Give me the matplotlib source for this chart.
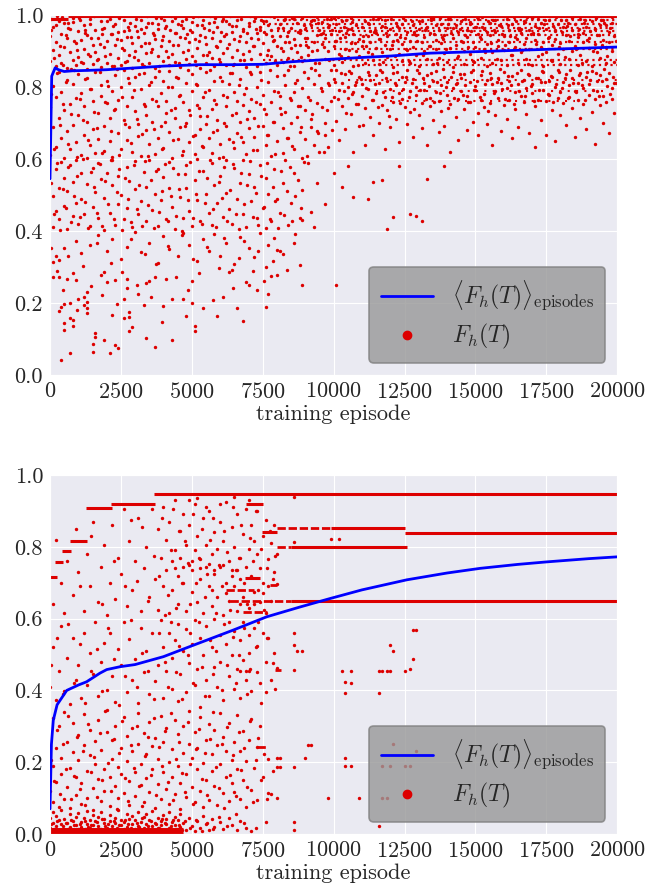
import numpy as np
import matplotlib
matplotlib.use("Agg")
import matplotlib.pyplot as plt
import seaborn as sns
from matplotlib.lines import Line2D

sns.set_style("darkgrid")
plt.rcParams["font.family"] = ["cmr10", "DejaVu Serif"]
plt.rcParams["mathtext.fontset"] = "cm"
plt.rcParams["axes.unicode_minus"] = False
plt.rcParams["axes.formatter.use_mathtext"] = True

RED = "#dd0000"
BLUE = "#0000ff"

# ---- data: x in hundreds of episodes, y in thousandths ----
# top panel: running mean of fidelity
top_mean_ep = [0, 60, 180, 300, 500, 800, 1300, 2000, 3000, 4000, 5300, 6500, 7500,
               8500, 9900, 11000, 12000, 13400, 15000, 16900, 18500, 20000]
top_mean = [0.545, 0.83, 0.853, 0.848, 0.843, 0.845, 0.846, 0.848, 0.853, 0.858, 0.862,
            0.862, 0.863, 0.870, 0.877, 0.882, 0.886, 0.894, 0.898, 0.903, 0.907, 0.911]

# top panel: scattered fidelities, per region
top_hi_left = [(0,872),(0,941),(1,903),(1,968),(2,857),(2,925),(3,984),(3,889),(4,947),(4,866),(5,912),(5,979),(6,853),(6,936),(7,898),(7,962),(8,875),(8,991),(9,921),(9,860),(10,955),(10,884),(11,930),(11,869),(12,973),(12,905),(13,851),(13,944),(14,887),(14,988),(15,918),(15,864),(16,959),(16,896),(17,877),(17,937),(18,982),(18,855),(19,910),(19,965),(20,868),(20,927),(21,990),(21,893),(22,946),(22,859),(23,916),(23,975),(24,880),(24,952),(25,862),(25,931),(26,902),(26,986),(27,871),(27,940),(28,957),(28,890),(29,923),(29,852),(30,969),(30,899),(31,938),(31,876),(32,985),(32,913),(33,858),(33,949),(34,894),(34,966),(35,921),(35,867),(36,979),(36,905),(37,853),(37,934),(38,960),(38,886),(39,915),(39,993),(40,873),(40,942),(41,901),(41,970),(42,861),(42,928),(43,983),(43,892),(44,951),(44,869),(45,917),(45,976),(46,856),(46,939),(47,898),(47,963),(48,879),(48,990),(49,926),(49,863),(50,954),(50,887),(51,932),(51,872),(52,973),(52,909),(53,854),(53,945),(54,890),(54,987),(55,920),(55,866),(56,958),(56,897),(57,880),(57,936),(58,981),(58,857),(59,911),(59,966),(60,870),(60,929),(61,989),(61,895),(62,948),(62,860),(63,919),(63,974),(64,882),(64,953),(65,864),(65,933),(66,904),(66,985),(67,874),(67,943),(68,956),(68,891),(69,924),(69,855),(70,970),(70,900),(71,937),(71,878),(72,984),(72,914),(73,859),(73,950),(74,893),(74,967)]
top_hi_left2 = [(0.5,958),(1.5,881),(2.5,996),(3.5,913),(4.5,862),(5.5,944),(6.5,977),(7.5,851),(8.5,928),(9.5,903),(10.5,985),(11.5,867),(12.5,950),(13.5,892),(14.5,936),(15.5,997),(16.5,874),(17.5,919),(18.5,961),(19.5,885),(20.5,998),(21.5,946),(22.5,858),(23.5,932),(24.5,991),(25.5,907),(26.5,870),(27.5,968),(28.5,939),(29.5,884),(30.5,955),(31.5,996),(32.5,865),(33.5,921),(34.5,978),(35.5,898),(36.5,944),(37.5,993),(38.5,857),(39.5,931),(40.5,964),(41.5,883),(42.5,997),(43.5,916),(44.5,949),(45.5,868),(46.5,982),(47.5,936),(48.5,904),(49.5,958),(50.5,995),(51.5,861),(52.5,927),(53.5,972),(54.5,939),(55.5,889),(56.5,998),(57.5,952),(58.5,915),(59.5,879),(60.5,984),(61.5,943),(62.5,907),(63.5,996),(64.5,862),(65.5,969),(66.5,927),(67.5,990),(68.5,876),(69.5,949),(70.5,997),(71.5,913),(72.5,961),(73.5,934),(74.5,986),
                (0.2,988),(2.2,972),(4.2,995),(6.2,963),(8.2,981),(10.2,992),(12.2,958),(14.2,976),(16.2,999),(18.2,947),(20.2,983),(22.2,969),(24.2,994),(26.2,955),(28.2,978),(30.2,989),(32.2,962),(34.2,997),(36.2,951),(38.2,974),(40.2,986),(42.2,959),(44.2,993),(46.2,971),(48.2,948),(50.2,981),(52.2,996),(54.2,965),(56.2,977),(58.2,991),(60.2,954),(62.2,983),(64.2,970),(66.2,998),(68.2,961),(70.2,979),(72.2,992),(74.2,957)]

top_hi_right = [(75,921),(75,983),(76,866),(76,947),(77,903),(77,972),(78,887),(78,958),(79,930),(79,994),(80,861),(80,915),(81,976),(81,942),(82,899),(82,869),(83,988),(83,925),(84,953),(84,880),(85,907),(85,965),(86,934),(86,857),(87,979),(87,896),(88,949),(88,918),(89,873),(89,991),(90,937),(90,962),(91,888),(91,910),(92,971),(92,853),(93,926),(93,985),(94,902),(94,944),(95,866),(95,957),(96,919),(96,981),(97,877),(97,935),(98,968),(98,899),(99,946),(99,990),(100,862),(100,913),(101,975),(101,929),(102,893),(102,955),(103,984),(103,870),(104,938),(104,906),(105,961),(105,882),(106,921),(106,993),(107,948),(107,859),(108,901),(108,973),(109,932),(109,887),(110,966),(110,915),(111,982),(111,868),(112,943),(112,896),(113,956),(113,924),(114,875),(114,989),(115,909),(115,951),(116,934),(116,863),(117,970),(117,898),(118,917),(118,985),(119,884),(119,941),(120,960),(120,905),(121,927),(121,856),(122,978),(122,947),(123,892),(123,965),(124,919),(124,873),(125,987),(125,936),(126,903),(126,954),(127,866),(127,929),(128,972),(128,912),(129,890),(129,945),(130,961),(130,858),(131,924),(131,983),(132,899),(132,939),(133,877),(133,968),(134,950),(134,915),(135,992),(135,864),(136,931),(136,906),(137,957),(137,881),(138,922),(138,976),(139,944),(139,895),(140,869),(140,963),(141,909),(141,988),(142,936),(142,855),(143,971),(143,917),(144,885),(144,952),(145,929),(145,982),(146,901),(146,864),(147,958),(147,940),(148,893),(148,976),(149,925),(149,872),(150,966),(150,911),(151,947),(151,989),(152,880),(152,934),(153,905),(153,961),(154,857),(154,920),(155,977),(155,944),(156,896),(156,868),(157,953),(157,985),(158,915),(158,930),(159,874),(159,969),(160,942),(160,902),(161,988),(161,861),(162,926),(162,958),(163,889),(163,975),(164,911),(164,938),(165,866),(165,964),(166,949),(166,896),(167,983),(167,919),(168,877),(168,935),(169,957),(169,905),(170,992),(170,862),(171,931),(171,970),(172,887),(172,946),(173,912),(173,979),(174,859),(174,924),(175,961),(175,898),(176,940),(176,987),(177,871),(177,916),(178,955),(178,933),(179,893),(179,974),(180,921),(180,865),(181,967),(181,906),(182,944),(182,985),(183,878),(183,929),(184,958),(184,901),(185,913),(185,976),(186,862),(186,939),(187,990),(187,890),(188,925),(188,951),(189,873),(189,967),(190,908),(190,936),(191,982),(191,857),(192,919),(192,962),(193,896),(193,945),(194,971),(194,881),(195,930),(195,987),(196,866),(196,911),(197,954),(197,925),(198,899),(198,978),(199,941),(199,869)]
top_hi_right2 = [(75.5,952),(76.5,889),(77.5,996),(78.5,928),(79.5,871),(80.5,963),(81.5,907),(82.5,985),(83.5,941),(84.5,858),(85.5,993),(86.5,917),(87.5,954),(88.5,883),(89.5,972),(90.5,935),(91.5,998),(92.5,901),(93.5,867),(94.5,979),(95.5,946),(96.5,912),(97.5,990),(98.5,876),(99.5,958),(100.5,929),(101.5,995),(102.5,886),(103.5,966),(104.5,949),(105.5,903),(106.5,981),(107.5,922),(108.5,862),(109.5,997),(110.5,943),(111.5,915),(112.5,976),(113.5,892),(114.5,959),(115.5,988),(116.5,933),(117.5,869),(118.5,951),(119.5,998),(120.5,918),(121.5,885),(122.5,969),(123.5,940),(124.5,993),(125.5,906),(126.5,872),(127.5,982),(128.5,954),(129.5,927),(130.5,996),(131.5,889),(132.5,963),(133.5,914),(134.5,985),(135.5,947),(136.5,868),(137.5,991),(138.5,933),(139.5,905),(140.5,976),(141.5,951),(142.5,997),(143.5,880),(144.5,962),(145.5,924),(146.5,989),(147.5,911),(148.5,955),(149.5,870),(150.5,994),(151.5,938),(152.5,966),(153.5,897),(154.5,983),(155.5,921),(156.5,959),(157.5,878),(158.5,999),(159.5,946),(160.5,916),(161.5,972),(162.5,888),(163.5,995),(164.5,934),(165.5,957),(166.5,903),(167.5,980),(168.5,864),(169.5,948),(170.5,996),(171.5,919),(172.5,963),(173.5,893),(174.5,987),(175.5,936),(176.5,874),(177.5,970),(178.5,995),(179.5,912),(180.5,953),(181.5,884),(182.5,977),(183.5,942),(184.5,998),(185.5,905),(186.5,962),(187.5,868),(188.5,985),(189.5,931),(190.5,956),(191.5,899),(192.5,993),(193.5,944),(194.5,917),(195.5,979),(196.5,887),(197.5,965),(198.5,996),(199.5,928),
                 (76.2,984),(78.2,941),(80.2,997),(82.2,963),(84.2,925),(86.2,989),(88.2,957),(90.2,918),(92.2,982),(94.2,995),(96.2,949),(98.2,973),(100.2,992),(102.2,937),(104.2,986),(106.2,961),(108.2,998),(110.2,927),(112.2,979),(114.2,953),(116.2,994),(118.2,966),(120.2,988),(122.2,931),(124.2,975),(126.2,997),(128.2,948),(130.2,983),(132.2,958),(134.2,993),(136.2,971),(138.2,939),(140.2,990),(142.2,964),(144.2,997),(146.2,945),(148.2,981),(150.2,967),(152.2,995),(154.2,952),(156.2,986),(158.2,973),(160.2,998),(162.2,943),(164.2,984),(166.2,962),(168.2,994),(170.2,951),(172.2,988),(174.2,976),(176.2,997),(178.2,958),(180.2,985),(182.2,969),(184.2,992),(186.2,947),(188.2,979),(190.2,996),(192.2,961),(194.2,986),(196.2,972),(198.2,994)]

top_mid_left = [(0,612),(0,745),(1,688),(1,803),(2,634),(2,771),(3,715),(3,842),(4,659),(4,786),(5,603),(5,737),(6,820),(6,677),(7,752),(7,628),(8,809),(8,694),(9,647),(9,769),(10,835),(10,721),(11,611),(11,783),(12,668),(12,748),(13,826),(13,702),(14,639),(14,794),(15,760),(15,683),(16,617),(16,841),(17,729),(17,655),(18,805),(18,774),(19,692),(19,623),(20,756),(20,818),(21,649),(21,713),(22,788),(22,605),(23,739),(23,832),(24,671),(24,763),(25,627),(25,799),(26,708),(26,846),(27,654),(27,747),(28,811),(28,688),(29,619),(29,772),(30,733),(30,827),(31,664),(31,697),(32,795),(32,608),(33,752),(33,838),(34,681),(34,723),(35,641),(35,806),(36,767),(36,702),(37,615),(37,829),(38,746),(38,659),(39,783),(39,692),(40,631),(40,818),(41,727),(41,762),(42,676),(42,845),(43,604),(43,799),(44,741),(44,713),(45,656),(45,826),(46,778),(46,690),(47,622),(47,757),(48,812),(48,701),(49,648),(49,735),(50,789),(50,837),(51,667),(51,614),(52,751),(52,805),(53,720),(53,683),(54,633),(54,771),(55,843),(55,698),(56,659),(56,792),(57,738),(57,616),(58,817),(58,764),(59,680),(59,709),(60,641),(60,828),(61,777),(61,606),(62,746),(62,693),(63,809),(63,655),(64,722),(64,839),(65,630),(65,785),(66,761),(66,672),(67,704),(67,821),(68,646),(68,749),(69,797),(69,613),(70,733),(70,686),(71,835),(71,768),(72,660),(72,715),(73,801),(73,624),(74,752),(74,841),(75,693),(75,779),(76,638),(76,726),(77,814),(77,667),(78,758),(78,607),(79,790),(79,703),(80,651),(80,830),(81,742),(81,774),(82,618),(82,685),(83,806),(83,730),(84,659),(84,846),(85,763),(85,699),(86,627),(86,787),(87,716),(87,819),(88,674),(88,748),(89,603),(89,796),(90,737),(90,655),(91,826),(91,771),(92,688),(92,712),(93,640),(93,809),(94,756),(94,679),(95,833),(95,620),(96,744),(96,790),(97,668),(97,701),(98,812),(98,634),(99,760),(99,846)]
top_mid_left2 = [(0.5,781),(1.5,627),(2.5,838),(3.5,694),(4.5,752),(5.5,813),(6.5,641),(7.5,726),(8.5,847),(9.5,605),(10.5,768),(11.5,709),(12.5,822),(13.5,653),(14.5,794),(15.5,731),(16.5,686),(17.5,842),(18.5,618),(19.5,759),(20.5,804),(21.5,677),(22.5,735),(23.5,849),(24.5,611),(25.5,772),(26.5,698),(27.5,826),(28.5,645),(29.5,793),(30.5,712),(31.5,837),(32.5,669),(33.5,748),(34.5,607),(35.5,815),(36.5,683),(37.5,761),(38.5,844),(39.5,628),(40.5,702),(41.5,799),(42.5,737),(43.5,654),(44.5,828),(45.5,775),(46.5,612),(47.5,691),(48.5,846),(49.5,723),(50.5,664),(51.5,808),(52.5,741),(53.5,635),(54.5,786),(55.5,719),(56.5,848),(57.5,675),(58.5,752),(59.5,603),(60.5,817),(61.5,699),(62.5,773),(63.5,839),(64.5,647),(65.5,728),(66.5,805),(67.5,662),(68.5,781),(69.5,711),(70.5,842),(71.5,626),(72.5,757),(73.5,693),(74.5,819),(75.5,738),(76.5,667),(77.5,846),(78.5,704),(79.5,613),(80.5,787),(81.5,725),(82.5,832),(83.5,658),(84.5,769),(85.5,636),(86.5,811),(87.5,747),(88.5,689),(89.5,841),(90.5,608),(91.5,763),(92.5,725),(93.5,848),(94.5,673),(95.5,796),(96.5,619),(97.5,735),(98.5,806),(99.5,681)]

top_mid_right = [(100,772),(100,823),(101,705),(101,846),(102,791),(102,652),(103,812),(103,748),(104,835),(104,683),(105,769),(105,801),(106,726),(106,840),(107,619),(107,787),(108,815),(108,754),(109,693),(109,829),(110,776),(110,808),(111,640),(111,741),(112,843),(112,795),(113,718),(113,820),(114,764),(114,667),(115,833),(115,783),(116,701),(116,810),(117,749),(117,842),(118,628),(118,772),(119,816),(119,737),(120,794),(120,688),(121,838),(121,759),(122,806),(122,712),(123,783),(123,647),(124,827),(124,766),(125,745),(125,813),(126,698),(126,848),(127,789),(127,731),(128,821),(128,660),(129,777),(129,801),(130,722),(130,840),(131,756),(131,685),(132,811),(132,793),(133,638),(133,832),(134,770),(134,747),(135,709),(135,818),(136,786),(136,845),(137,674),(137,761),(138,805),(138,733),(139,828),(139,693),(140,779),(140,815),(141,752),(141,620),(142,842),(142,797),(143,716),(143,808),(144,768),(144,654),(145,825),(145,788),(146,739),(146,836),(147,681),(147,774),(148,813),(148,758),(149,703),(149,846),(150,792),(150,803),(151,727),(151,668),(152,832),(152,765),(153,781),(153,744),(154,819),(154,696),(155,838),(155,756),(156,640),(156,807),(157,789),(157,722),(158,826),(158,770),(159,677),(159,811),(160,750),(160,843),(161,796),(161,711),(162,818),(162,763),(163,658),(163,831),(164,785),(164,739),(165,807),(165,690),(166,848),(166,775),(167,757),(167,820),(168,725),(168,797),(169,672),(169,834),(170,782),(170,808),(171,746),(171,633),(172,826),(172,765),(173,707),(173,813),(174,791),(174,842),(175,668),(175,760),(176,817),(176,778),(177,736),(177,829),(178,801),(178,650),(179,769),(179,846),(180,787),(180,721),(181,814),(181,755),(182,836),(182,694),(183,773),(183,805),(184,742),(184,826),(185,661),(185,789),(186,812),(186,764),(187,715),(187,840),(188,796),(188,752),(189,828),(189,683),(190,778),(190,809),(191,730),(191,845),(192,766),(192,642),(193,818),(193,790),(194,749),(194,833),(195,701),(195,775),(196,821),(196,758),(197,839),(197,672),(198,797),(198,766),(199,812),(199,728)]
top_mid_right2 = [(100.5,814),(101.5,768),(102.5,839),(103.5,790),(104.5,727),(105.5,845),(106.5,781),(107.5,806),(108.5,752),(109.5,822),(110.5,694),(111.5,798),(112.5,833),(113.5,763),(114.5,809),(115.5,745),(116.5,848),(117.5,786),(118.5,826),(119.5,719),(120.5,771),(121.5,811),(122.5,842),(123.5,756),(124.5,795),(125.5,829),(126.5,773),(127.5,812),(128.5,738),(129.5,846),(130.5,791),(131.5,824),(132.5,766),(133.5,804),(134.5,838),(135.5,757),(136.5,815),(137.5,783),(138.5,849),(139.5,801),(140.5,742),(141.5,827),(142.5,769),(143.5,810),(144.5,836),(145.5,778),(146.5,805),(147.5,757),(148.5,841),(149.5,793),(150.5,816),(151.5,771),(152.5,845),(153.5,808),(154.5,733),(155.5,826),(156.5,784),(157.5,813),(158.5,849),(159.5,795),(160.5,768),(161.5,831),(162.5,806),(163.5,752),(164.5,840),(165.5,788),(166.5,817),(167.5,776),(168.5,836),(169.5,803),(170.5,761),(171.5,824),(172.5,792),(173.5,845),(174.5,814),(175.5,780),(176.5,830),(177.5,759),(178.5,809),(179.5,842),(180.5,797),(181.5,825),(182.5,770),(183.5,847),(184.5,812),(185.5,786),(186.5,833),(187.5,806),(188.5,764),(189.5,843),(190.5,819),(191.5,793),(192.5,838),(193.5,775),(194.5,816),(195.5,849),(196.5,802),(197.5,781),(198.5,829),(199.5,811)]

top_lowmid = [(1,412),(1,498),(2,455),(2,571),(3,433),(3,520),(4,592),(5,470),(5,548),(6,405),(6,512),(7,583),(8,441),(8,535),(9,478),(9,596),(10,420),(11,561),(11,489),(12,447),(13,530),(13,602),(14,415),(15,468),(15,575),(16,509),(17,437),(17,588),(18,545),(19,402),(19,492),(20,561),(21,451),(22,527),(22,598),(23,418),(24,475),(24,553),(25,501),(26,432),(27,579),(27,463),(28,540),(29,411),(30,517),(30,594),(31,446),(32,484),(33,565),(34,427),(34,522),(35,597),(36,458),(37,503),(38,571),(38,414),(39,486),(40,549),(41,433),(42,591),(42,519),(43,468),(44,405),(45,558),(46,495),(47,437),(48,582),(48,520),(49,455),(50,413),(51,541),(52,487),(52,600),(53,429),(54,568),(55,503),(56,451),(57,589),(57,416),(58,529),(59,477),(60,552),(61,438),(62,596),(62,506),(63,460),(64,420),(65,575),(66,490),(67,533),(68,446),(68,598),(69,411),(70,558),(71,482),(72,521),(73,437),(74,584),(75,465),(76,409),(76,546),(77,502),(78,427),(79,572),(80,490),(81,451),(82,534),(83,596),(84,418),(85,478),(86,560),(88,437),(89,514),(91,590),(92,454),(94,532),(97,476),(100,562),(103,522),(105,581),(107,494),(112,489),(114,535),(117,543),(119,406),(121,439),(123,580),(127,446),(129,442),(131,428),(133,544),(139,580),(93,410),(89,430),(101,250)]
top_lowmid2 = [(0.5,533),(1.5,447),(2.5,589),(3.5,402),(4.5,516),(5.5,463),(6.5,578),(7.5,425),(8.5,497),(9.5,552),(10.5,438),(11.5,599),(12.5,481),(13.5,407),(14.5,563),(15.5,522),(16.5,449),(17.5,586),(18.5,413),(19.5,538),(20.5,476),(21.5,597),(22.5,432),(23.5,509),(24.5,571),(25.5,404),(26.5,548),(27.5,489),(28.5,426),(29.5,583),(30.5,461),(31.5,527),(32.5,415),(33.5,594),(34.5,472),(35.5,541),(36.5,408),(37.5,566),(38.5,453),(39.5,511),(40.5,587),(41.5,429),(42.5,496),(43.5,574),(44.5,443),(45.5,518),(46.5,401),(47.5,559),(48.5,485),(49.5,592),(50.5,436),(51.5,503),(52.5,568),(53.5,419),(54.5,479),(55.5,547),(56.5,598),(57.5,462),(58.5,411),(59.5,536),(60.5,491),(61.5,577),(62.5,427),(63.5,513),(64.5,585),(65.5,448),(66.5,405),(67.5,561),(68.5,474),(69.5,529),(70.5,595),(71.5,439),(72.5,506),(73.5,417),(74.5,553),(75.5,468),(76.5,590),(77.5,433),(78.5,521),(79.5,483),(80.5,409),(81.5,566),(82.5,445),(83.5,512),(84.5,579),(85.5,428),(86.5,497),(87.5,543),(88.5,463),(89.5,592)]

top_low = [(4,42),(7,60),(21,60),(15,65),(24,76),(23,83),(34,104),(37,79),(43,97),(16,116),(16,106),(19,96),(15,87),(5,145),(5,125),(7,157),(8,136),(8,152),(4,190),(3,178),(5,197),(7,201),(13,185),(12,194),(13,171),(13,203),(12,217),(13,231),(22,167),(28,160),(26,157),(28,176),(29,134),(28,123),(26,210),(31,224),(33,194),(40,192),(47,210),(48,164),(50,199),(51,123),(51,136),(54,185),(59,164),(61,218),(66,185),(68,151),(76,188),(77,224),(37,273),(34,255),(35,262),(27,266),(27,241),(41,266),(43,212),(50,262),(19,287),(18,278),(20,259),(23,264),(8,284),(6,268),(9,264),(1,273),(3,271),(1,315),(3,319),(63,287),(64,292),(69,259),(70,250),(73,236),(76,301),(78,275),(80,278),(81,345),(80,347),(89,250),(10,210),(2,330),(5,352),(9,371),(11,338),(14,362),(17,390),(20,345),(22,378),(25,323),(27,356),(30,398),(32,341),(35,367),(38,312),(40,385),(42,350),(45,330),(47,395),(49,362),(52,318),(54,377),(56,345),(58,392),(60,331),(62,366),(65,308),(67,384),(70,352),(72,327),(74,395),(77,360),(79,381),(82,337),(86,368),(88,305)]
top_low2 = [(0.5,352),(2.5,288),(4.5,235),(6.5,331),(9.5,180),(11.5,304),(14.5,248),(16.5,366),(18.5,223),(21.5,312),(23.5,196),(25.5,285),(28.5,377),(30.5,251),(33.5,336),(35.5,218),(37.5,308),(39.5,146),(41.5,359),(44.5,273),(46.5,389),(48.5,237),(50.5,322),(52.5,282),(55.5,356),(57.5,208),(59.5,298),(61.5,380),(64.5,243),(66.5,325),(68.5,372),(71.5,289),(73.5,344),(75.5,262),(78.5,318),(83.5,291),(86.5,392)]

# top panel: rows where many episodes share the same fidelity (level, x0, x1)
top_rows_y = [998, 990, 985, 975, 965, 955, 945, 925, 905, 876, 860, 820, 790, 760]
top_rows_x0 = [6.4, 0.5, 80, 75, 90, 80, 95, 90, 100, 75, 110, 105, 115, 120]
top_rows_x1 = [200, 6.4, 200, 200, 200, 200, 200, 200, 200, 200, 200, 200, 195, 185]

# bottom panel: running mean of fidelity
bot_mean_ep = [0, 50, 116, 250, 590, 1000, 1290, 1760, 2000, 2470, 3000, 4000, 5060, 6460,
               7640, 8800, 9880, 11000, 12580, 14000, 15170, 16500, 17520, 19000, 20000]
bot_mean = [0.07, 0.25, 0.317, 0.36, 0.40, 0.415, 0.424, 0.448, 0.458, 0.466, 0.472, 0.494,
            0.526, 0.568, 0.605, 0.632, 0.656, 0.68, 0.708, 0.727, 0.740, 0.751, 0.758,
            0.767, 0.772]

# bottom panel: plateaus (level, start, end), solid and broken
bot_plat_y = [715, 759, 789, 815, 907, 918, 946, 851, 839, 800, 650, 919, 842, 712, 8]
bot_plat_x0 = [0, 1.8, 4.2, 7.0, 12.7, 21.5, 36.7, 99, 125, 85, 85, 69, 74.7, 68.8, 0]
bot_plat_x1 = [2.3, 4.7, 7.4, 13.2, 21.8, 37.0, 200, 125, 200, 126, 200, 75, 80, 74, 47]
bot_dash_y = [851, 650, 800, 694, 681, 619, 241, 457]
bot_dash_x0 = [80, 63.5, 80, 77.6, 62, 68, 72.9, 79.5]
bot_dash_x1 = [99, 85, 85, 80, 72, 76.5, 76.4, 81.5]

bot_floor = [(0,18),(0,45),(1,9),(1,32),(1,61),(2,22),(2,50),(3,12),(3,38),(4,27),(4,66),(5,15),(5,42),(6,8),(6,30),(7,55),(7,20),(8,36),(8,11),(9,47),(9,25),(10,14),(10,58),(11,33),(11,19),(12,44),(12,7),(13,28),(13,63),(14,16),(14,39),(15,24),(15,52),(16,10),(16,35),(17,48),(17,21),(18,13),(18,60),(19,30),(19,41),(20,17),(20,9),(21,37),(21,54),(22,23),(22,12),(23,46),(23,31),(24,15),(24,67),(25,26),(25,40),(26,11),(26,34),(27,57),(27,20),(28,43),(28,8),(29,29),(29,50),(30,14),(30,38),(31,22),(31,62),(32,10),(32,33),(33,47),(33,18),(34,27),(34,55),(35,12),(35,40),(36,21),(36,64),(37,31),(37,9),(38,45),(38,16),(39,36),(39,25),(40,53),(40,11),(41,29),(41,42),(42,18),(42,60),(43,34),(43,8),(44,24),(44,48),(45,14),(45,39),(46,57),(46,20),(47,31),(48,12),(49,44),(50,22),(51,9),(52,35),(53,17),(54,50),(55,27),(56,11),(57,41),(58,20),(60,33),(61,13),(63,46),(64,24),(66,10),(67,37),(69,18),(71,8),(76,33),(86,33),(86,10)]
bot_floor2 = [(0.5,27),(1.5,14),(2.5,35),(3.5,6),(4.5,21),(5.5,31),(6.5,13),(7.5,40),(8.5,24),(9.5,5),(10.5,29),(11.5,11),(12.5,37),(13.5,19),(14.5,26),(15.5,8),(16.5,33),(17.5,15),(18.5,42),(19.5,22),(20.5,29),(21.5,7),(22.5,36),(23.5,18),(24.5,25),(25.5,10),(26.5,39),(27.5,28),(28.5,16),(29.5,6),(30.5,31),(31.5,20),(32.5,44),(33.5,13),(34.5,23),(35.5,35),(36.5,9),(37.5,27),(38.5,17),(39.5,41),(40.5,30),(41.5,7),(42.5,22),(43.5,38),(44.5,14),(45.5,25),(46.5,10),(47.5,35),(49.5,18),(51.5,40),(53.5,8),(55.5,31),(57.5,15),(59.5,47),(62.5,22),(65.5,55),(68.5,30),(72.5,16),
              (0.2,5),(2.2,9),(4.2,3),(6.2,12),(8.2,6),(10.2,2),(12.2,15),(14.2,5),(16.2,8),(18.2,3),(20.2,11),(22.2,4),(24.2,7),(26.2,14),(28.2,3),(30.2,9),(32.2,5),(34.2,12),(36.2,4),(38.2,7),(40.2,3),(42.2,10),(44.2,6),(46.2,2)]

bot_low = [(0,120),(0,265),(1,88),(1,190),(1,322),(2,145),(2,240),(3,75),(3,300),(4,168),(4,212),(5,97),(5,340),(6,130),(6,255),(7,185),(7,72),(8,228),(8,310),(9,110),(9,160),(10,275),(10,205),(11,83),(11,142),(12,335),(12,247),(13,176),(13,100),(14,290),(14,220),(15,128),(15,68),(16,258),(16,196),(17,152),(17,318),(18,92),(18,235),(19,180),(19,121),(20,284),(20,345),(21,158),(21,77),(22,210),(22,262),(23,134),(23,302),(24,188),(24,99),(25,240),(25,166),(26,325),(26,114),(27,272),(27,203),(28,82),(28,148),(29,230),(29,296),(30,173),(30,106),(31,251),(31,338),(32,137),(32,195),(33,88),(33,280),(34,222),(34,155),(35,312),(35,118),(36,182),(36,245),(37,73),(37,268),(38,140),(38,208),(39,330),(39,97),(40,172),(40,256),(41,125),(41,295),(42,200),(42,84),(43,236),(43,160),(44,318),(44,111),(45,190),(45,278),(46,143),(46,70),(47,226),(47,300),(48,168),(48,102),(49,250),(49,342),(50,130),(50,213),(51,88),(51,285),(52,180),(52,240),(53,120),(53,326),(54,198),(54,75),(55,262),(55,150),(56,307),(56,96),(57,222),(57,176),(58,134),(58,290),(59,247),(59,82),(60,195),(60,338),(61,115),(61,270),(62,160),(62,230),(63,91),(63,308),(64,205),(64,142),(65,257),(65,118),(66,180),(66,332),(67,97),(67,230),(68,286),(68,150),(69,203),(69,76),(70,262),(71,124),(71,320),(72,185),(73,242),(73,95),(74,300),(75,160),(77,210),(78,112),(80,213),(81,213),(81,187),(80,187),(91,248),(92,248),(90,213),(86,187),(98,99),(80,99),(77,113)]
bot_low2 = [(0.5,205),(1.5,148),(2.5,290),(3.5,112),(4.5,252),(5.5,180),(6.5,328),(7.5,97),(8.5,162),(9.5,271),(10.5,126),(11.5,232),(12.5,80),(13.5,307),(14.5,174),(15.5,215),(16.5,103),(17.5,281),(18.5,150),(19.5,343),(20.5,198),(21.5,119),(22.5,264),(23.5,71),(24.5,227),(25.5,316),(26.5,157),(27.5,92),(28.5,248),(29.5,185),(30.5,301),(31.5,135),(32.5,79),(33.5,218),(34.5,269),(35.5,164),(36.5,323),(37.5,108),(38.5,241),(39.5,190),(40.5,286),(41.5,145),(42.5,336),(43.5,94),(44.5,210),(45.5,257),(46.5,170),(47.5,118),(48.5,311),(49.5,196),(50.5,83),(51.5,238),(52.5,292),(53.5,152),(54.5,227),(55.5,108),(56.5,265),(57.5,339),(58.5,187),(59.5,129),(60.5,250),(61.5,73),(62.5,299),(63.5,165),(64.5,221),(65.5,105),(66.5,283),(67.5,178),(68.5,240),(69.5,131),(70.5,314),(71.5,89),(72.5,207),(73.5,268),(74.5,150),(75.5,222),(76.5,98),(78.5,176)]

bot_mid = [(0,410),(1,520),(2,372),(3,455),(4,580),(5,398),(6,490),(7,362),(8,545),(9,430),(10,470),(11,378),(12,560),(13,415),(14,505),(15,445),(16,590),(17,385),(18,478),(19,532),(20,402),(21,560),(22,440),(23,368),(24,515),(25,470),(26,590),(27,395),(28,542),(29,430),(30,488),(31,365),(32,575),(33,452),(34,510),(35,390),(36,560),(37,425),(38,470),(39,595),(40,380),(40,520),(41,455),(42,560),(43,405),(43,490),(44,540),(45,370),(45,585),(46,445),(47,510),(48,395),(48,570),(49,475),(50,530),(51,415),(51,595),(52,460),(53,355),(53,545),(54,500),(55,430),(55,580),(56,385),(57,520),(58,465),(58,600),(59,410),(60,555),(60,480),(61,372),(62,530),(63,440),(63,590),(64,500),(65,405),(65,565),(66,460),(67,540),(67,380),(68,590),(68,485),(69,430),(70,555),(70,505),(71,398),(72,575),(73,450),(73,525),(74,420),(75,560),(76,480),(76,395),(77,545),(78,430),(79,505),(80,462),(86,457),(86,559),(86,526),(87,510),(89,510),(70,455),(69,455),(67,455)]
bot_mid2 = [(0.5,470),(2.5,545),(4.5,390),(6.5,585),(8.5,420),(10.5,530),(12.5,365),(14.5,455),(16.5,515),(18.5,398),(20.5,575),(22.5,488),(24.5,360),(26.5,440),(28.5,595),(30.5,410),(32.5,505),(34.5,455),(36.5,375),(38.5,560),(40.5,480),(41.5,410),(42.5,590),(44.5,450),(45.5,525),(46.5,375),(48.5,500),(49.5,560),(50.5,420),(52.5,590),(53.5,465),(54.5,385),(56.5,540),(57.5,445),(58.5,510),(60.5,400),(61.5,585),(62.5,470),(64.5,550),(65.5,420),(66.5,500),(68.5,575),(69.5,390),(70.5,460),(72.5,520),(73.5,590),(74.5,365),(76.5,545),(78.5,475),(79.5,405)]

bot_right = [(103,455),(106,455),(116,455),(117,455),(119,455),(120,455),(125,455),(127,461),(128,487),(128,568),(129,568),(120,526),(121,510),(104,424),(106,421),(104,392),(116,392),(104,213),(104,190),(106,190),(121,250),(129,232),(109,99),(116,23),(117,190),(120,190),(125,190),(127,190),(117,99),(119,99)]

bot_high = [(1,640),(2,820),(4,700),(5,615),(6,760),(8,665),(9,850),(10,730),(12,620),(13,780),(14,690),(15,870),(17,645),(18,745),(19,805),(20,610),(21,700),(22,860),(23,655),(24,770),(25,725),(26,905),(27,635),(28,815),(29,680),(30,760),(31,880),(32,620),(33,740),(34,800),(35,660),(36,905),(37,710),(38,850),(38,625),(39,770),(40,690),(40,910),(41,735),(41,820),(42,615),(42,870),(43,760),(43,680),(44,790),(44,930),(45,640),(45,720),(46,845),(46,770),(47,700),(47,890),(48,620),(48,805),(49,750),(49,860),(50,675),(50,735),(51,920),(51,790),(52,645),(52,830),(53,710),(53,765),(54,880),(54,615),(55,745),(55,805),(56,690),(56,900),(57,780),(57,635),(58,840),(58,725),(59,660),(59,795),(60,870),(60,745),(61,610),(61,815),(62,700),(62,925),(63,760),(63,650),(64,855),(64,735),(65,690),(65,800),(66,620),(66,890),(67,770),(67,710),(68,835),(68,660),(69,745),(69,905),(70,795),(70,630),(71,860),(71,720),(72,675),(72,815),(73,780),(73,900),(74,645),(74,740),(75,830),(75,700),(76,615),(76,875),(77,765),(77,690),(78,810),(78,650),(79,730),(79,860),(80,695),(80,780),(44,740),(47,745),(50,760),(53,740),(56,752),(58,736),(61,748),(64,720),(66,735),(55,910),(52,935),(60,920),(65,940),(70,930),(49,930),(57,680),(62,672),(67,640),(72,640),(75,672),(99,821),(102,821),(86,814),(86,940)]
bot_high2 = [(30.5,705),(32.5,855),(34.5,650),(36.5,775),(38.5,720),(39.5,880),(40.5,610),(41.5,665),(42.5,790),(43.5,905),(44.5,630),(45.5,845),(46.5,700),(47.5,815),(48.5,755),(49.5,640),(50.5,890),(51.5,700),(52.5,770),(53.5,850),(54.5,660),(55.5,725),(56.5,820),(57.5,880),(58.5,615),(59.5,750),(60.5,690),(61.5,845),(62.5,785),(63.5,625),(64.5,910),(65.5,735),(66.5,770),(67.5,860),(68.5,700),(69.5,640),(70.5,825),(71.5,760),(72.5,900),(73.5,680),(74.5,795),(75.5,625),(76.5,740),(77.5,845),(78.5,710),(79.5,775),(10.5,690),(14.5,830),(18.5,640),(22.5,760),(26.5,690),(28.5,875)]

x_ticks = [0, 2500, 5000, 7500, 10000, 12500, 15000, 17500, 20000]
y_ticks = [0.0, 0.2, 0.4, 0.6, 0.8, 1.0]


def scatter_pts(ax, pts):
    a = np.array(pts, dtype=float)
    ax.scatter(a[:, 0] * 100, a[:, 1] / 1000, s=6, color=RED, linewidths=0, zorder=2)


def rows(ax, ys, x0s, x1s, lw, ls):
    ax.hlines(np.array(ys) / 1000, np.array(x0s) * 100, np.array(x1s) * 100,
              colors=RED, linewidth=lw, linestyles=ls, zorder=2)


fig = plt.figure(figsize=(6.58, 8.92), dpi=100)
ax1 = fig.add_axes([0.076, 0.5796, 0.862, 0.4036])
ax2 = fig.add_axes([0.076, 0.065, 0.862, 0.4025])

# top
for pts in [top_low, top_low2, top_lowmid, top_lowmid2, top_mid_left, top_mid_left2,
            top_mid_right, top_mid_right2, top_hi_left, top_hi_left2, top_hi_right,
            top_hi_right2]:
    scatter_pts(ax1, pts)
rows(ax1, top_rows_y[:2], top_rows_x0[:2], top_rows_x1[:2], 2.2, "solid")
rows(ax1, top_rows_y[2:11], top_rows_x0[2:11], top_rows_x1[2:11], 1.6, (0, (1.0, 1.6)))
rows(ax1, top_rows_y[11:], top_rows_x0[11:], top_rows_x1[11:], 1.5, (0, (1.0, 3.0)))
ax1.plot(top_mean_ep, top_mean, color=BLUE, lw=2, zorder=3)

# bottom
for pts in [bot_floor, bot_floor2, bot_low, bot_low2, bot_mid, bot_mid2, bot_right,
            bot_high, bot_high2]:
    scatter_pts(ax2, pts)
rows(ax2, bot_plat_y[:-1], bot_plat_x0[:-1], bot_plat_x1[:-1], 2.2, "solid")
rows(ax2, bot_plat_y[-1:], bot_plat_x0[-1:], bot_plat_x1[-1:], 5.0, "solid")
rows(ax2, bot_dash_y, bot_dash_x0, bot_dash_x1, 2.0, (0, (3, 1)))
ax2.plot(bot_mean_ep, bot_mean, color=BLUE, lw=2, zorder=3)

handles = [Line2D([], [], color=BLUE, lw=2),
           Line2D([], [], color=RED, marker="o", ls="", markersize=6)]
labels = [r"$\langle F_h(T)\rangle_{\mathrm{episodes}}$", r"$F_h(T)$"]

for ax in (ax1, ax2):
    ax.set_xlim(0, 20000)
    ax.set_ylim(0, 1)
    ax.set_xticks(x_ticks)
    ax.set_yticks(y_ticks)
    ax.set_yticklabels([f"{v:.1f}" for v in y_ticks])
    ax.tick_params(axis="both", labelsize=16, pad=5, length=0, labelcolor="#262626")
    ax.set_xlabel("training episode", fontsize=16, labelpad=2, color="#262626")
    leg = ax.legend(handles, labels, loc="lower right", fontsize=17, frameon=True,
                    fancybox=True, shadow=False, framealpha=0.8, facecolor="#989898",
                    edgecolor="#808080", handlelength=2.2, borderpad=0.5,
                    labelspacing=0.4)
    leg.get_frame().set_linewidth(1.2)
    leg.set_zorder(5)

fig.savefig("out.png", dpi=100)
